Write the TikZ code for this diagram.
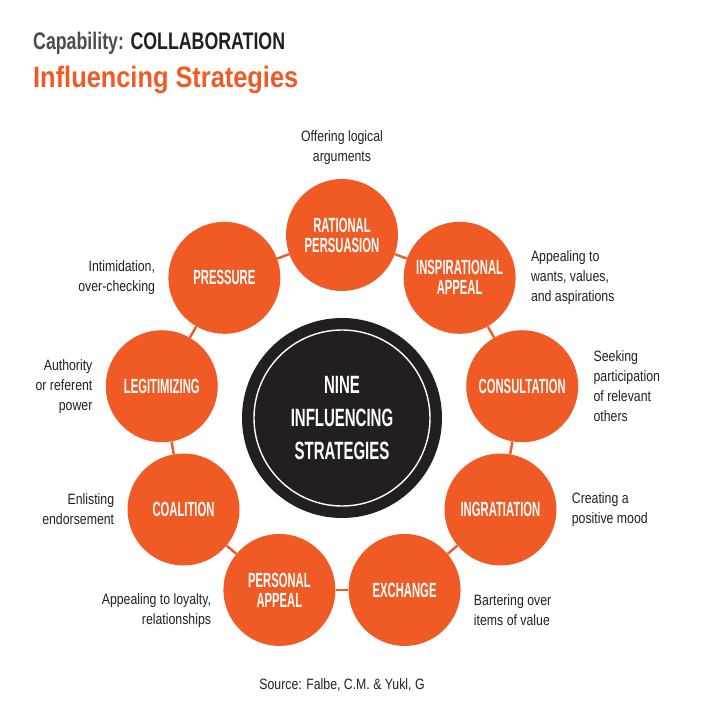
\documentclass[tikz,border=0pt]{standalone}
\usepackage{fontspec}
\setmainfont{Liberation Sans}
\newfontfamily\condfont[FakeStretch=0.82]{Liberation Sans}
\newfontfamily\labelfont[FakeStretch=0.55]{Liberation Sans}
\newfontfamily\hubfont[FakeStretch=0.6]{Liberation Sans}
\newfontfamily\titlefont[FakeStretch=0.74]{Liberation Sans}
\newfontfamily\subtitlefont[FakeStretch=0.86]{Liberation Sans}
\usetikzlibrary{positioning}
\definecolor{orng}{RGB}{240,90,36}
\definecolor{ink}{RGB}{35,31,32}
\definecolor{greytxt}{RGB}{77,77,77}

\begin{document}
\begin{tikzpicture}[
    x=1pt, y=1pt,
    strategy/.style={circle, fill=orng, minimum size=112pt, inner sep=0pt, text=white, align=center, font=\labelfont\bfseries\fontsize{20.5}{20}\selectfont},
    desc/.style={text=ink, inner sep=0pt, font=\condfont\fontsize{15}{20}\selectfont},
    link/.style={orng, line width=2.4pt}
]
    \useasboundingbox (-342, -299) rectangle (363, 418);

    % Title
    \node (title) [anchor=base west, inner sep=0pt, font=\titlefont\bfseries\fontsize{24}{26}\selectfont] at (-309, 368) {\textcolor{greytxt}{Capability:} \textcolor{ink}{COLLABORATION}};
    \node (subtitle) [anchor=base west, inner sep=0pt, text=orng, font=\subtitlefont\bfseries\fontsize{29.5}{32}\selectfont] at (-309, 330) {Influencing Strategies};

    % Centre
    \node (hub) [circle, fill=ink, minimum size=200pt, inner sep=0pt, text=white, align=center, font=\hubfont\bfseries\fontsize{25}{33}\selectfont] at (0, 0) {NINE\\INFLUENCING\\STRATEGIES};
    \draw [white, line width=1.4pt] (hub.center) circle [radius=88pt];

    % Strategies
    \node (rational) [strategy] at (90:183) {RATIONAL\\PERSUASION};
    \node (inspirational) [strategy] at (50:183) {INSPIRATIONAL\\APPEAL};
    \node (consultation) [strategy] at (10:183) {CONSULTATION};
    \node (ingratiation) [strategy] at (-30:183) {INGRATIATION};
    \node (exchange) [strategy] at (-70:183) {EXCHANGE};
    \node (personal) [strategy] at (-110:183) {PERSONAL\\APPEAL};
    \node (coalition) [strategy] at (-150:183) {COALITION};
    \node (legitimizing) [strategy] at (170:183) {LEGITIMIZING};
    \node (pressure) [strategy] at (130:183) {PRESSURE};

    % Connections
    \draw [link] (rational) -- (inspirational);
    \draw [link] (inspirational) -- (consultation);
    \draw [link] (consultation) -- (ingratiation);
    \draw [link] (ingratiation) -- (exchange);
    \draw [link] (exchange) -- (personal);
    \draw [link] (personal) -- (coalition);
    \draw [link] (coalition) -- (legitimizing);
    \draw [link] (legitimizing) -- (pressure);
    \draw [link] (pressure) -- (rational);

    % Descriptions
    \node (d-rational) [desc, align=center, above=14pt of rational] {Offering logical\\arguments};
    \node (d-inspirational) [desc, align=left, right=15pt of inspirational] {Appealing to\\wants, values,\\and aspirations};
    \node (d-consultation) [desc, align=left, right=15pt of consultation] {Seeking\\participation\\of relevant\\others};
    \node (d-ingratiation) [desc, align=left, right=15pt of ingratiation] {Creating a\\positive mood};
    \node (d-exchange) [desc, align=left, right=13pt of exchange, yshift=-20pt] {Bartering over\\items of value};
    \node (d-personal) [desc, align=right, left=12pt of personal, yshift=-21pt] {Appealing to loyalty,\\relationships};
    \node (d-coalition) [desc, align=right, left=13pt of coalition] {Enlisting\\endorsement};
    \node (d-legitimizing) [desc, align=right, left=13pt of legitimizing] {Authority\\or referent\\power};
    \node (d-pressure) [desc, align=right, left=13pt of pressure] {Intimidation,\\over-checking};

    % Source
    \node (source) [desc] at (0, -267) {Source: Falbe, C.M. \& Yukl, G};
\end{tikzpicture}
\end{document}
